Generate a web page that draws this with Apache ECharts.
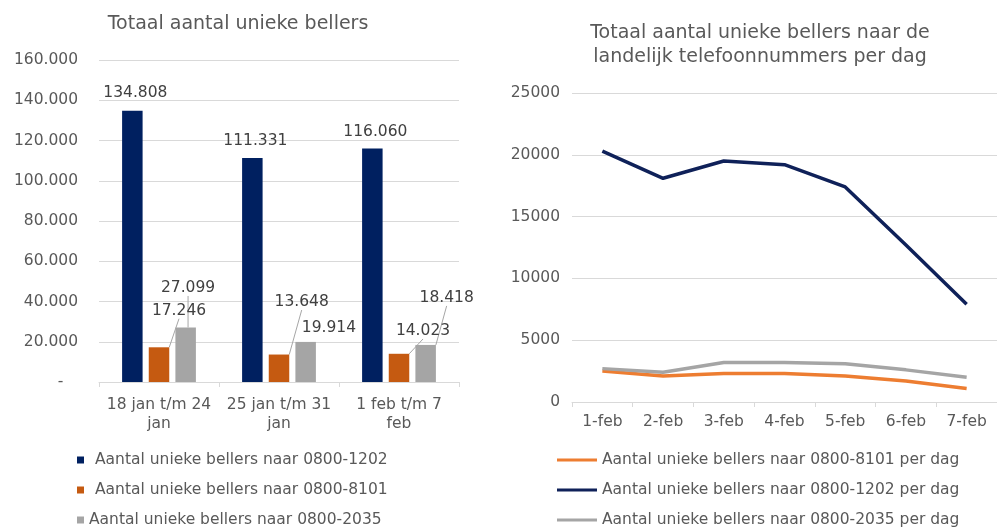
<!DOCTYPE html>
<html><head><meta charset="utf-8">
<script src="https://cdn.jsdelivr.net/npm/echarts@6/dist/echarts.min.js"></script>
<style>html,body{margin:0;padding:0;background:#fff}#c{width:997px;height:529px}</style>
</head><body><div id="c"></div>
<script>
// ---------- data: left chart (weekly totals) ----------
const weekCategories = ['18 jan t/m 24 jan', '25 jan t/m 31 jan', '1 feb t/m 7 feb'];
const weekNames = ['Aantal unieke bellers naar 0800-1202', 'Aantal unieke bellers naar 0800-8101', 'Aantal unieke bellers naar 0800-2035'];
const weekCalls1202 = [134808, 111331, 116060];
const weekCalls8101 = [17246, 13648, 14023];
const weekCalls2035 = [27099, 19914, 18418];
const leftYTicks = ['-   ', '20.000', '40.000', '60.000', '80.000', '100.000', '120.000', '140.000', '160.000'];

// ---------- data: right chart (per day) ----------
const dayCategories = ['1-feb', '2-feb', '3-feb', '4-feb', '5-feb', '6-feb', '7-feb'];
const dayNames = ['Aantal unieke bellers naar 0800-8101 per dag', 'Aantal unieke bellers naar 0800-1202 per dag', 'Aantal unieke bellers naar 0800-2035 per dag'];
const dayCalls8101 = [2500, 2100, 2300, 2300, 2100, 1700, 1100];
const dayCalls1202 = [20300, 18100, 19500, 19200, 17400, 12700, 7900];
const dayCalls2035 = [2700, 2400, 3200, 3200, 3100, 2600, 2000];
const rightYTicks = ['0', '5000', '10000', '15000', '20000', '25000'];

// ---------- layout / style (not data) ----------
const FONT = 'DejaVu Sans';
const TXT = '#595959';
const GRID = '#d9d9d9';
// label centre offset from bar top-centre, per bar series, per category
const labelPlacement = [
  [[3, -17.7], [3, -17], [3, -16.7]],
  [[20, -36.6], [22.7, -52.5], [24, -22.8]],
  [[2.4, -39.5], [23.3, -13.7], [21, -47]]
];
const leaderShown = [[false, false, false], [true, true, true], [true, false, true]];
const barColors = ['#002060', '#c55a11', '#a5a5a5'];
const lineColors = ['#ed7d31', '#0f2159', '#a5a5a5'];

const fmt = v => String(v).replace(/\B(?=(\d{3})+(?!\d))/g, '.');
const weekValues = [weekCalls1202, weekCalls8101, weekCalls2035];
const dayValues = [dayCalls8101, dayCalls1202, dayCalls2035];

const barSeries = weekValues.map((vals, s) => ({
  type: 'bar', name: weekNames[s], xAxisIndex: 0, yAxisIndex: 0,
  barWidth: 20.5, barGap: '30%',
  itemStyle: { color: barColors[s] },
  data: vals.map((v, i) => ({ value: v, labelLine: { show: leaderShown[s][i] } })),
  label: { show: true, position: 'top', formatter: p => fmt(p.value), fontFamily: FONT, fontSize: 15.5, color: '#404040' },
  labelLine: { show: false, lineStyle: { color: '#a6a6a6', width: 1 } },
  labelLayout: p => {
    const o = labelPlacement[s][p.dataIndex];
    return { x: p.rect.x + p.rect.width / 2 + o[0], y: p.rect.y + o[1], align: 'center', verticalAlign: 'middle' };
  },
  animation: false
}));

const lineSeries = dayValues.map((vals, s) => ({
  type: 'line', name: dayNames[s], xAxisIndex: 1, yAxisIndex: 1,
  data: vals, symbol: 'none', smooth: false,
  lineStyle: { color: lineColors[s], width: 3.5 }, itemStyle: { color: lineColors[s] },
  animation: false
}));

const legendBase = {
  orient: 'vertical', top: 452, height: 80, padding: 0, itemGap: 14, icon: 'rect',
  selectedMode: false,
  textStyle: { color: TXT, fontFamily: FONT, fontSize: 15.5, lineHeight: 16 }
};

const option = {
  animation: false,
  backgroundColor: '#fff',
  textStyle: { fontFamily: FONT },
  graphic: [
    { type: 'text', x: 238, y: 24, style: { text: 'Totaal aantal unieke bellers', font: '19px "DejaVu Sans"', fill: TXT, textAlign: 'center', textVerticalAlign: 'middle' } },
    { type: 'text', x: 760, y: 33, style: { text: 'Totaal aantal unieke bellers naar de', font: '19px "DejaVu Sans"', fill: TXT, textAlign: 'center', textVerticalAlign: 'middle' } },
    { type: 'text', x: 760, y: 57, style: { text: 'landelijk telefoonnummers per dag', font: '19px "DejaVu Sans"', fill: TXT, textAlign: 'center', textVerticalAlign: 'middle' } }
  ],
  grid: [
    { left: 99, top: 60, width: 360, height: 322, containLabel: false },
    { left: 572, top: 93, width: 429, height: 309, containLabel: false }
  ],
  xAxis: [
    { type: 'category', gridIndex: 0, data: weekCategories,
      axisLine: { lineStyle: { color: GRID } }, axisTick: { show: true, length: 5, lineStyle: { color: GRID } },
      axisLabel: { interval: 0, margin: 13, color: TXT, fontFamily: FONT, fontSize: 15.5, lineHeight: 19,
        formatter: v => { const k = v.lastIndexOf(' '); return v.slice(0, k) + '\n' + v.slice(k + 1); } } },
    { type: 'category', gridIndex: 1, data: dayCategories,
      axisLine: { lineStyle: { color: GRID } }, axisTick: { show: true, length: 5, lineStyle: { color: GRID } },
      axisLabel: { interval: 0, margin: 10, color: TXT, fontFamily: FONT, fontSize: 15.5, lineHeight: 19 } }
  ],
  yAxis: [
    { type: 'value', gridIndex: 0, min: 0, max: 160000, interval: 20000,
      axisLine: { show: false }, axisTick: { show: false }, splitLine: { lineStyle: { color: GRID } },
      axisLabel: { margin: 21, color: TXT, fontFamily: FONT, fontSize: 15.5, formatter: v => leftYTicks[Math.round(v / 20000)] } },
    { type: 'value', gridIndex: 1, min: 0, max: 25000, interval: 5000,
      axisLine: { show: false }, axisTick: { show: false }, splitLine: { lineStyle: { color: GRID } },
      axisLabel: { margin: 12, color: TXT, fontFamily: FONT, fontSize: 15.5, formatter: v => rightYTicks[Math.round(v / 5000)] } }
  ],
  legend: [
    Object.assign({}, legendBase, { left: 77, itemWidth: 7, itemHeight: 7,
      data: weekNames.map((n, i) => ({ name: n, textStyle: { padding: i < 2 ? [0, 0, 0, 6] : 0 } })) }),
    Object.assign({}, legendBase, { left: 557, itemWidth: 40, itemHeight: 3,
      data: dayNames.slice() })
  ],
  series: barSeries.concat(lineSeries)
};
const chart = echarts.init(document.getElementById('c'), null, { renderer: 'canvas' });
chart.setOption(option);
</script></body></html>
